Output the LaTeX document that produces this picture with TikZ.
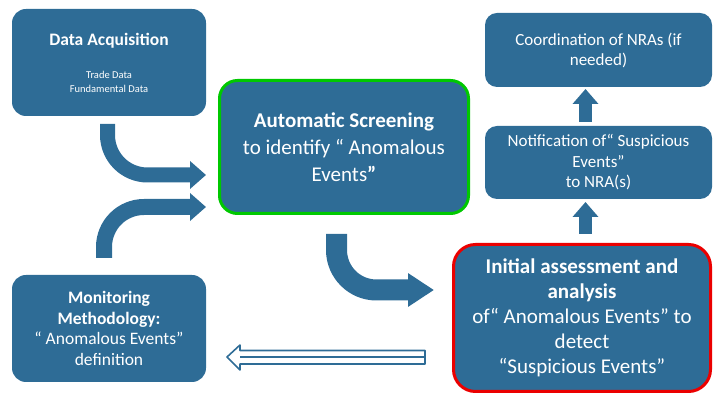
\documentclass[tikz,border=0pt]{standalone}
\usepackage{fontspec}
\setmainfont{Carlito}
\usetikzlibrary{arrows.meta}
\definecolor{boxblue}{RGB}{46,108,150}
\definecolor{okgreen}{RGB}{0,200,0}
\definecolor{alertred}{RGB}{235,0,0}
\begin{document}
\begin{tikzpicture}[x=1pt,y=1pt, line join=round,
	box/.style={fill=boxblue, rounded corners=14pt, text=white, align=center, inner sep=2pt},
	fatarrow/.style={draw=boxblue, line width=#1}]
	\useasboundingbox (0,0) rectangle (713,396);
	% Kaestchen
	\node[box, minimum width=194pt, minimum height=107pt, font=\fontsize{10.5}{14}\selectfont] (acq) at (109,333.5)
		{{\fontsize{17.5}{14}\selectfont\bfseries Data Acquisition}\\[19pt]Trade Data\\Fundamental Data};
	\node[box, draw=okgreen, line width=3pt, rounded corners=18pt, minimum width=249pt, minimum height=133pt, font=\fontsize{21}{27}\selectfont] (screen) at (344,249)
		{\textbf{Automatic Screening}\\to identify “ Anomalous\\Events\textbf{”}};
	\node[box, minimum width=194pt, minimum height=107pt, font=\fontsize{17.5}{20.5}\selectfont] (monit) at (109,67.5)
		{\textbf{Monitoring}\\\textbf{Methodology:}\\“ Anomalous Events”\\definition};
	\node[box, draw=alertred, line width=3pt, rounded corners=22pt, minimum width=257pt, minimum height=147pt, font=\fontsize{21}{25}\selectfont] (assess) at (582,78)
		{\textbf{Initial assessment and}\\\textbf{analysis}\\of“ Anomalous Events” to\\detect\\“Suspicious Events”};
	\node[box, rounded corners=12pt, minimum width=227pt, minimum height=74pt, font=\fontsize{17}{20}\selectfont] (coord) at (598.5,346)
		{Coordination of NRAs (if\\needed)};
	\node[box, rounded corners=12pt, minimum width=227pt, minimum height=73pt, font=\fontsize{17}{20.5}\selectfont] (notif) at (598.5,233.5)
		{Notification of“ Suspicious\\Events”\\to NRA(s)};
	% Pfeilenden
	\coordinate (a1) at (107.5,272); \coordinate (b1) at (206,221);
	\coordinate (a2) at (104,138);   \coordinate (b2) at (206,189);
	\coordinate (a3) at (336.5,162); \coordinate (b3) at (434,106);
	\coordinate (a4) at (585.5,162); \coordinate (b4) at (585.5,194);
	\coordinate (a5) at (585.5,274); \coordinate (b5) at (585.5,307);
	% gebogene Pfeile
	\draw[fatarrow=15pt, -{Triangle[length=16pt,width=27pt]}] (a1) -- ++(0,-11) arc[start angle=180,end angle=270,radius=40] -- (b1);
	\draw[fatarrow=16pt, -{Triangle[length=16pt,width=27pt]}] (a2) -- ++(0,11) arc[start angle=180,end angle=90,radius=40] -- (b2);
	\draw[fatarrow=21pt, -{Triangle[length=26pt,width=32pt]}] (a3) -- ++(0,-16) arc[start angle=180,end angle=270,radius=40] -- (b3);
	% gerade Pfeile
	\draw[fatarrow=13pt, -{Triangle[length=15pt,width=25pt]}] (a4) -- (b4);
	\draw[fatarrow=13pt, -{Triangle[length=15pt,width=25pt]}] (a5) -- (b5);
	% Hohlpfeil zurueck
	\coordinate (h0) at (425,39); \coordinate (h1) at (227,39);
	\draw[boxblue, line width=1.6pt] (h1) -- (240,51) -- (240,45.5) -- (h0 |- 0,45.5) -- (h0 |- 0,32) -- (240,32) -- (240,26) -- cycle;
	\draw[boxblue, line width=1.2pt] (240,39) -- (h0);
\end{tikzpicture}
\end{document}
